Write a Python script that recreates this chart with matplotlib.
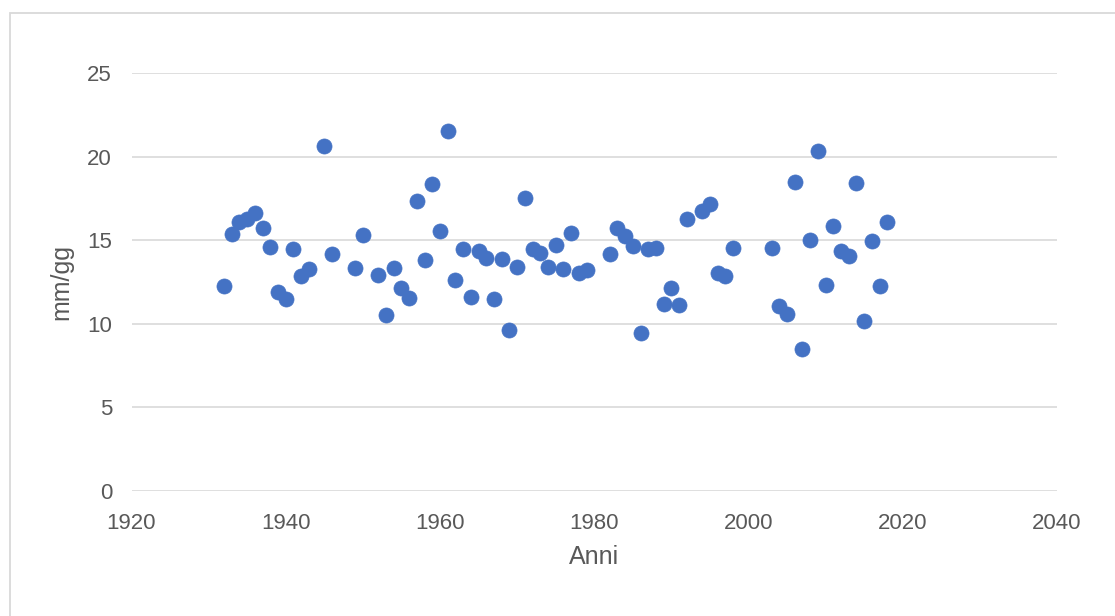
import matplotlib
matplotlib.use("Agg")
import matplotlib.pyplot as plt
from matplotlib.patches import Rectangle

# anni e valori (mm/gg)
anni = [1932, 1933, 1934, 1935, 1936, 1937, 1938, 1939, 1940, 1941, 1942, 1943,
        1945, 1946, 1949, 1950, 1952, 1953, 1954, 1955, 1956, 1957, 1958, 1959,
        1960, 1961, 1962, 1963, 1964, 1965, 1966, 1967, 1968, 1969, 1970, 1971,
        1972, 1973, 1974, 1975, 1976, 1977, 1978, 1979, 1982, 1983, 1984, 1985,
        1986, 1987, 1988, 1989, 1990, 1991, 1992, 1994, 1995, 1996, 1997, 1998,
        2003, 2004, 2005, 2006, 2007, 2008, 2009, 2010, 2011, 2012, 2013, 2014,
        2015, 2016, 2017, 2018]
mm_gg = [12.27, 15.37, 16.10, 16.25, 16.65, 15.75, 14.57, 11.92, 11.46, 14.45, 12.87, 13.30,
         20.62, 14.19, 13.35, 15.33, 12.90, 10.54, 13.35, 12.12, 11.54, 17.37, 13.80, 18.35,
         15.57, 21.56, 12.60, 14.47, 11.58, 14.35, 13.95, 11.46, 13.86, 9.64, 13.41, 17.54,
         14.49, 14.25, 13.41, 14.71, 13.30, 15.45, 13.02, 13.23, 14.17, 15.75, 15.27, 14.65,
         9.44, 14.47, 14.55, 11.18, 12.16, 11.10, 16.27, 16.77, 17.17, 13.05, 12.87, 14.55,
         14.55, 11.04, 10.60, 18.50, 8.50, 14.99, 20.36, 12.34, 15.87, 14.35, 14.07, 18.43,
         10.16, 14.97, 12.26, 16.09]

xticks = [1920, 1940, 1960, 1980, 2000, 2020, 2040]
yticks = [0, 5, 10, 15, 20, 25]

TXT = "#595959"
GRID = "#D9D9D9"
BLU = "#4472C4"

plt.rcParams["font.family"] = ["Liberation Sans", "DejaVu Sans"]

fig = plt.figure(figsize=(11.15, 6.16), dpi=100)
# cornice dell'area grafico (stile Excel)
fig.patches.append(Rectangle((10 / 1115, -0.1), 1.2, (616 - 13) / 616 + 0.1,
                             transform=fig.transFigure, fill=False,
                             edgecolor=GRID, lw=1.3))

ax = fig.add_axes([131.5 / 1115, 1 - 491 / 616, (1057 - 131.5) / 1115, (491 - 73) / 616])
ax.scatter(anni, mm_gg, s=118, color=BLU, edgecolors=BLU, linewidths=0.5, zorder=3)

ax.set_xlim(1920, 2040)
ax.set_ylim(0, 25)
ax.set_xticks(xticks)
ax.set_yticks(yticks)
ax.grid(axis="y", color=GRID, lw=1.2)
ax.set_axisbelow(True)
for s in ax.spines.values():
    s.set_visible(False)
ax.tick_params(length=0, labelsize=16, colors=TXT)
ax.tick_params(axis="x", pad=16)
ax.tick_params(axis="y", pad=14)

ax.set_xlabel("Anni", fontsize=18, color=TXT, labelpad=8)
ax.set_ylabel("mm/gg", fontsize=18, color=TXT, labelpad=10)

fig.savefig("out.png", dpi=100)
